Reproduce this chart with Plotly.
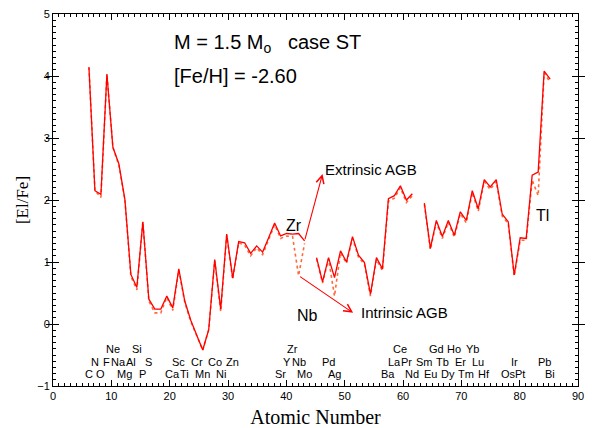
import plotly.graph_objects as go

# Atomic numbers C (6) .. Bi (83); None marks elements not computed (Tc, Pm)
atomic_number = list(range(6, 84))

el_fe_standard = [
    4.14, 2.15, 2.09, 4.03, 2.85, 2.58, 2.01, 0.80, 0.59, 1.65,   # C .. P
    0.40, 0.24, 0.24, 0.45, 0.26, 0.89, 0.37, 0.06, -0.18, -0.42,  # S .. Mn
    -0.09, 1.04, 0.24, 1.45, 0.74, 1.33, 1.31, 1.14, 1.26, 1.16,   # Fe .. Br
    1.39, 1.63, 1.42, 1.46, 1.45, 1.46, 1.34, None, 1.07, 0.68,    # Kr .. Rh
    1.07, 0.75, 1.18, 1.00, 1.41, 1.11, 0.99, 0.48, 1.07, 0.89,    # Pd .. Cs
    2.02, 2.07, 2.23, 2.00, 2.10, None, 1.95, 1.22, 1.67, 1.41,    # Ba .. Tb
    1.67, 1.43, 1.81, 1.67, 2.15, 1.86, 2.33, 2.21, 2.33, 1.77,    # Dy .. Re
    1.65, 0.79, 1.39, 1.38, 2.40, 2.45, 4.08, 3.95,                # Os .. Bi
]

el_fe_variant = [
    4.14, 2.15, 2.04, 4.03, 2.85, 2.56, 2.00, 0.77, 0.55, 1.65,
    0.37, 0.18, 0.18, 0.43, 0.22, 0.87, 0.35, 0.04, -0.19, -0.42,
    -0.09, 1.02, 0.20, 1.43, 0.72, 1.31, 1.27, 1.10, 1.23, 1.12,
    1.36, 1.60, 1.38, 1.42, 1.41, 0.78, 1.30, None, 1.05, 0.66,
    1.05, 0.45, 1.15, 0.98, 1.38, 1.08, 0.96, 0.45, 1.04, 0.86,
    1.98, 2.03, 2.20, 1.96, 2.07, None, 1.93, 1.20, 1.64, 1.38,
    1.64, 1.40, 1.78, 1.63, 2.12, 1.82, 2.30, 2.17, 2.30, 1.74,
    1.62, 0.77, 1.35, 1.35, 2.32, 2.07, 4.05, 3.90,
]

# Element name labels along the bottom, stacked in three rows
label_names = ["Ne", "Si", "Zr", "Ce", "Gd", "Ho", "Yb",
               "N", "F", "Na", "Al", "S", "Sc", "Cr", "Co", "Zn", "Y", "Nb", "Pd",
               "La", "Pr", "Sm", "Tb", "Er", "Lu", "Ir", "Pb",
               "C", "O", "Mg", "P", "Ca", "Ti", "Mn", "Ni", "Sr", "Mo", "Ag",
               "Ba", "Nd", "Eu", "Dy", "Tm", "Hf", "Os", "Pt", "Bi"]
label_z = [10, 14, 40, 58, 64, 67, 70,
           7, 9, 11, 13, 16, 21, 24, 27, 30, 39, 41, 46,
           57, 59, 62, 65, 68, 71, 77, 82,
           6, 8, 12, 15, 20, 22, 25, 28, 38, 42, 47,
           56, 60, 63, 66, 69, 72, 76, 78, 83]
label_row = [0] * 7 + [1] * 20 + [2] * 20
row_level = [-0.41, -0.62, -0.81]

SANS = "Liberation Sans"
SERIF = "Liberation Serif"

fig = go.Figure()

fig.add_trace(go.Scatter(
    x=atomic_number, y=el_fe_variant, xaxis="x", yaxis="y",
    mode="lines", connectgaps=False,
    line=dict(color="#ff6a3a", width=1.6, dash="dot"),
    showlegend=False, hoverinfo="skip",
))
fig.add_trace(go.Scatter(
    x=atomic_number, y=el_fe_standard, xaxis="x", yaxis="y",
    mode="lines", connectgaps=False,
    line=dict(color="#ff0000", width=1.3),
    showlegend=False, hoverinfo="skip",
))

# empty helper traces so the tick-only axes get their own subplots drawn
for xa, ya in [("x2", "y"), ("x3", "y"), ("x", "y2")]:
    fig.add_trace(go.Scatter(x=[None], y=[None], xaxis=xa, yaxis=ya,
                             mode="markers", showlegend=False,
                             hoverinfo="skip"))

annotations = []
for name, z, row in zip(label_names, label_z, label_row):
    annotations.append(dict(
        x=z, y=row_level[row], xref="x", yref="y", text=name,
        showarrow=False, font=dict(family=SANS, size=11, color="black"),
        xanchor="center", yanchor="middle",
    ))

text_font = dict(family=SANS, color="black")
annotations += [
    dict(x=19.8, y=4.52, xref="x", yref="y",
         text="M = 1.5 M<sub>o</sub>   case ST", showarrow=False,
         xanchor="left", yanchor="middle", font=dict(size=20, **text_font)),
    dict(x=19.8, y=4.0, xref="x", yref="y",
         text="[Fe/H] = -2.60", showarrow=False,
         xanchor="left", yanchor="middle", font=dict(size=20, **text_font)),
    dict(x=40.2, y=1.59, xref="x", yref="y", text="Zr", showarrow=False,
         font=dict(size=16, **text_font)),
    dict(x=42.5, y=0.14, xref="x", yref="y", text="Nb", showarrow=False,
         font=dict(size=16, **text_font)),
    dict(x=81.8, y=1.75, xref="x", yref="y", text="Tl", showarrow=False,
         font=dict(size=16, **text_font)),
    dict(x=45.0, y=2.49, xref="x", yref="y", text="Extrinsic AGB",
         showarrow=False, xanchor="left", yanchor="middle",
         font=dict(size=15, **text_font)),
    dict(x=51.05, y=0.19, xref="x", yref="y", text="Intrinsic AGB",
         showarrow=False, xanchor="left", yanchor="middle",
         font=dict(size=15, **text_font)),
    # arrows from the Zr-Nb region towards the two scenarios
    dict(x=45.0, y=2.42, ax=42, ay=1.34, xref="x", yref="y",
         axref="x", ayref="y", text="", showarrow=True,
         arrowhead=5, arrowsize=1.4, arrowwidth=1.1, arrowcolor="#ff0000"),
    dict(x=50.1, y=0.18, ax=41, ay=0.78, xref="x", yref="y",
         axref="x", ayref="y", text="", showarrow=True,
         arrowhead=5, arrowsize=1.4, arrowwidth=1.1, arrowcolor="#ff0000"),
]

tick_font = dict(family=SANS, size=11, color="black")
frame = dict(showline=True, linecolor="black", linewidth=1, mirror="allticks",
             tickcolor="black", tickwidth=1, ticks="inside",
             showgrid=False, zeroline=False, automargin=False)

fig.update_layout(
    width=597, height=428,
    margin=dict(l=53, r=19, t=14, b=42),
    paper_bgcolor="white", plot_bgcolor="white",
    # data axis (atomic number scale used by the curves)
    xaxis=dict(range=[0, 87.65], showticklabels=False, ticks="",
               showline=True, linecolor="black", linewidth=1, mirror=True,
               showgrid=False, zeroline=False, automargin=False),
    # labelled atomic-number axis with major ticks
    xaxis2=dict(range=[0, 90], overlaying="x", anchor="y", side="bottom",
                tickmode="linear", tick0=0, dtick=10, ticklen=6,
                tickfont=tick_font,
                title=dict(text="Atomic Number", standoff=10,
                           font=dict(family=SERIF, size=20, color="black")),
                **frame),
    # unit sub-ticks along the atomic-number axis
    xaxis3=dict(range=[0, 90], overlaying="x", anchor="y", side="bottom",
                tickmode="linear", tick0=0, dtick=1, ticklen=3,
                showticklabels=False, **frame),
    yaxis=dict(range=[-1, 5], tickmode="linear", tick0=-1, dtick=1,
               ticklen=6, tickfont=tick_font,
               title=dict(text="[El/Fe]", standoff=4,
                          font=dict(family=SERIF, size=17, color="black")),
               **frame),
    # 0.1 sub-ticks along the abundance axis
    yaxis2=dict(range=[-1, 5], overlaying="y", anchor="x", side="left",
                tickmode="linear", tick0=-1, dtick=0.1, ticklen=3,
                showticklabels=False, **frame),
    annotations=annotations,
)

fig.write_html("out.html")
